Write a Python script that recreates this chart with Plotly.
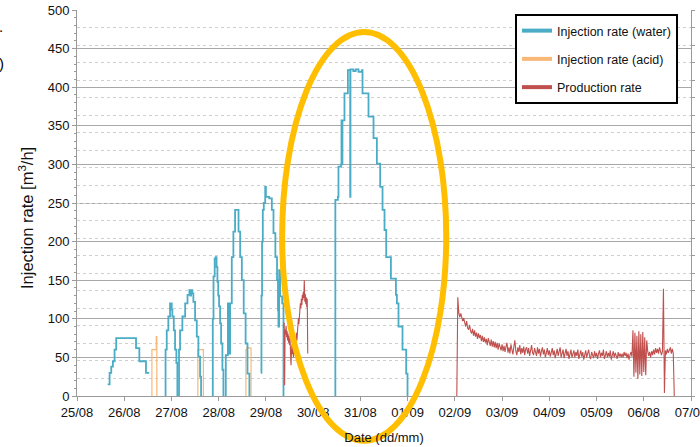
import pandas as pd
import plotly.graph_objects as go

# ---------------------------------------------------------------------------
# Data
# ---------------------------------------------------------------------------
START = pd.Timestamp("2021-08-25")
END = pd.Timestamp("2021-09-07")

# Water injection rate [m3/h]; time in days elapsed since 25/08 00:00.
# Values are step changes (held until the next entry); None separates runs.
water_days = [
    0.650, 0.690, 0.725, 0.760, 0.795, 0.830, 1.250, 1.320, 1.460, 1.530, None,
    1.864, 1.875, 1.900, 1.934, 1.970, 2.005, 2.019, 2.049, 2.076, 2.104, 2.125, None,
    2.146, 2.160, 2.182, 2.231, 2.290, 2.340, 2.380, 2.400, 2.415, 2.440, 2.464,
    2.500, 2.536, 2.570, 2.606, 2.627, None,
    2.867, 2.875, 2.890, 2.915, 2.935, 2.955, 2.973, 2.990, 3.008, 3.030, 3.051,
    3.079, 3.100, None,
    3.136, 3.150, 3.195, 3.220, 3.242, 3.277, 3.311, 3.347, 3.420, 3.455, 3.490,
    3.530, 3.570, 3.610, 3.650, None,
    3.892, 3.905, 3.918, 3.934, 3.955, 3.985, 4.000, 4.070, 4.125, 4.160, 4.200,
    4.235, 4.255, 4.265, 4.280, 4.300, 4.345, 4.372, None,
    5.466, 5.470, 5.523, 5.536, 5.590, 5.600, 5.610, 5.620, 5.663, 5.735, 5.784,
    5.790, 5.850, 5.900, 5.960, 6.032, 6.045, 6.172, 6.278, 6.349, 6.419, 6.469,
    6.511, 6.547, 6.646, 6.752, 6.773, 6.807, 6.892, 6.970, 6.998,
]
water_rate = [
    15, 30, 38, 45, 60, 75, 62, 45, 30, 30, None,
    0, 60, 85, 103, 120, 112, 103, 85, 60, 43, 0, None,
    0, 60, 85, 103, 120, 131, 137, 130, 137, 133, 122,
    98, 77, 51, 25, 0, None,
    0, 100, 155, 178, 180, 167, 148, 130, 116, 94, 68,
    34, 0, None,
    0, 53, 120, 55, 120, 180, 213, 241, 213, 180, 150,
    107, 68, 29, 0, None,
    30, 130, 200, 241, 250, 271, 258, 256, 241, 211, 180,
    150, 111, 90, 163, 129, 120, 0, None,
    0, 254, 258, 297, 300, 357, 300, 357, 392, 422, 258,
    423, 421, 423, 420, 422, 392, 362, 334, 301, 271, 241,
    215, 180, 152, 131, 120, 90, 60, 29, 0,
]

# Acid injection rate [m3/h]
acid_days = [1.583, 1.586, 1.678, 1.690, None,
             2.557, 2.559, 2.676, None,
             3.574, 3.576, 3.600, 3.640, 3.685]
acid_rate = [0, 60, 77, 0, None,
             0, 60, 0, None,
             0, 60, 63, 62, 0]

# Production rate [m3/h] - first flowback, 15 min samples from 29/08 09:00
prod1_start = "2021-08-29 09:00"
prod1_rate = [
    88, 95, 14, 86, 80, 91, 76, 84, 72, 81, 69, 78, 66, 74, 62, 40, 58, 67,
    54, 63, 50, 60, 68, 57, 75, 64, 82, 72, 90, 84, 101, 93, 110, 104, 120,
    114, 126, 118, 131, 124, 135, 127, 150, 122, 132, 119, 128, 115, 126, 55,
]

# Production rate [m3/h] - main production, 30 min samples from 02/09 01:00
prod2_start = "2021-09-02 01:00"
prod2_rate = [
    0, 128, 108, 102, 107, 99, 97, 101, 93, 90, 97, 88, 86, 92, 84, 81, 87, 78, 85, 77, 82, 74, 81, 75,
    79, 71, 78, 70, 76, 69, 74, 66, 75, 68, 65, 73, 64, 71, 63, 70, 62, 69, 60, 68, 63, 59, 67, 58,
    65, 57, 64, 69, 56, 63, 55, 67, 60, 54, 64, 72, 58, 53, 63, 57, 66, 54, 62, 56, 64, 53, 61, 63,
    55, 62, 52, 61, 66, 56, 53, 62, 58, 52, 63, 55, 61, 51, 58, 63, 54, 60, 50, 58, 62, 53, 59, 51,
    58, 62, 53, 59, 49, 57, 61, 52, 58, 63, 50, 57, 60, 49, 55, 61, 52, 58, 48, 57, 60, 50, 56, 59,
    50, 57, 52, 60, 48, 56, 59, 51, 57, 47, 55, 59, 50, 56, 60, 51, 48, 57, 53, 49, 58, 51, 56, 48,
    55, 59, 50, 56, 52, 60, 48, 55, 58, 50, 56, 51, 59, 47, 55, 58, 50, 56, 52, 48, 57, 51, 55, 50,
    55, 50, 57, 52, 56, 49, 55, 47, 53, 57, 51, 85, 25, 82, 30, 78, 22, 84, 28, 80, 26, 83, 31, 76,
    27, 72, 58, 52, 57, 50, 58, 53, 60, 54, 62, 56, 61, 55, 63, 57, 53, 58, 139, 4, 59, 54, 61, 56,
    60, 63, 55, 61, 55, 0,
]

# Axis ticks (day labels as printed on the chart)
x_tick_dates = pd.date_range(START, END, freq="D")
x_tick_labels = ["25/08", "26/08", "27/08", "28/08", "29/08", "30/08", "31/08",
                 "01/09", "02/09", "03/09", "04/09", "05/09", "06/08", "07/09"]

# Highlighted period (ellipse), in days since 25/08 and rate units
highlight_days = (4.343, 7.818)
highlight_rate = (-58, 471.5)

# ---------------------------------------------------------------------------
# Helpers
# ---------------------------------------------------------------------------
def to_time(days):
    return [None if d is None else START + pd.Timedelta(days=d) for d in days]


prod1_t = list(pd.date_range(prod1_start, periods=len(prod1_rate), freq="15min"))
prod2_t = list(pd.date_range(prod2_start, periods=len(prod2_rate), freq="30min"))
prod_t = prod1_t + [None] + prod2_t
prod_v = prod1_rate + [None] + prod2_rate

WATER = "#4bacc6"
ACID = "#f9b878"
PROD = "#c0504d"
FONT = "Liberation Sans, Arial, sans-serif"

fig = go.Figure()

fig.add_trace(go.Scatter(x=to_time(acid_days), y=acid_rate, mode="lines",
                         line=dict(color=ACID, width=1.2, shape="hv"),
                         connectgaps=False, showlegend=False, hoverinfo="skip"))
fig.add_trace(go.Scatter(x=to_time(water_days), y=water_rate, mode="lines",
                         line=dict(color=WATER, width=1.8, shape="hv"),
                         connectgaps=False, showlegend=False, hoverinfo="skip"))
fig.add_trace(go.Scatter(x=prod_t, y=prod_v, mode="lines",
                         line=dict(color=PROD, width=1.1),
                         connectgaps=False, showlegend=False, hoverinfo="skip"))

# Legend entries with thicker swatches
for i, (name, col) in enumerate([("Injection rate (water)", WATER),
                                 ("Injection rate (acid)", ACID),
                                 ("Production rate", PROD)]):
    fig.add_trace(go.Scatter(x=[None], y=[None], mode="lines", name=name,
                             legendgroup=f"g{i}",
                             line=dict(color=col, width=4)))

axis_grey = "#9a9a9a"
span_days = (END - START).days

fig.update_layout(
    width=700, height=447,
    margin=dict(l=77, r=9, t=10, b=51, autoexpand=False),
    paper_bgcolor="white", plot_bgcolor="white",
    font=dict(family=FONT, size=13, color="#111"),
    showlegend=True,
    legend=dict(x=(515 - 77) / 614, y=(396 - 14) / 386, xanchor="left", yanchor="top",
                bgcolor="white", bordercolor="black", borderwidth=2,
                font=dict(size=12.5, color="#111"), traceorder="grouped",
                tracegroupgap=9),
    xaxis=dict(type="date", range=[START, END], automargin=False,
               tickvals=x_tick_dates, ticktext=x_tick_labels,
               ticklabeloverflow="allow",
               ticks="outside", ticklen=4, tickcolor=axis_grey,
               showline=True, linecolor=axis_grey, linewidth=1,
               showgrid=False, zeroline=False,
               tickfont=dict(size=13),
               title=dict(text="Date (dd/mm)", font=dict(size=13), standoff=14)),
    yaxis=dict(range=[0, 500], tick0=0, dtick=50, automargin=False,
               ticks="outside", ticklen=4, tickcolor=axis_grey,
               minor=dict(dtick=10, ticks="outside", ticklen=2, tickcolor=axis_grey,
                          showgrid=False),
               showline=True, linecolor=axis_grey, linewidth=1,
               showgrid=True, gridcolor="#a8a8a8", gridwidth=1, zeroline=False,
               tickfont=dict(size=13)),
    yaxis2=dict(overlaying="y", side="right", range=[0, 22], dtick=1, automargin=False,
                showticklabels=False, ticks="outside", ticklen=3, tickcolor=axis_grey,
                showline=True, linecolor=axis_grey, linewidth=1,
                showgrid=True, gridcolor="#cfcfcf", griddash="dot", gridwidth=1,
                zeroline=False),
)

# keep the secondary (dotted grid) axis alive
fig.add_trace(go.Scatter(x=[None], y=[None], yaxis="y2", showlegend=False,
                         hoverinfo="skip"))

# Y axis title, placed slightly below the plot's mid-height
fig.add_annotation(text="Injection rate [m<sup>3</sup>/h]", textangle=-90,
                   xref="paper", yref="paper", x=(26 - 77) / 614, y=(396 - 218) / 386,
                   xanchor="center", yanchor="middle", showarrow=False,
                   font=dict(size=16.5, color="#111"))

# Highlight ellipse around the main injection cycle
fig.add_shape(type="circle", xref="paper", yref="paper",
              x0=highlight_days[0] / span_days, x1=highlight_days[1] / span_days,
              y0=highlight_rate[0] / 500, y1=highlight_rate[1] / 500,
              line=dict(color="#ffbf00", width=6), layer="above")

# Fragments of neighbouring page text at the left edge
fig.add_annotation(text=")", xref="paper", yref="paper", x=(1 - 77) / 614,
                   y=(396 - 63) / 386, showarrow=False, xanchor="center",
                   yanchor="middle", font=dict(size=15, color="black"))
fig.add_annotation(text=".", xref="paper", yref="paper", x=(1 - 77) / 614,
                   y=(396 - 26) / 386, showarrow=False, xanchor="center",
                   yanchor="middle", font=dict(size=15, color="black"))

fig.write_html("out.html")
